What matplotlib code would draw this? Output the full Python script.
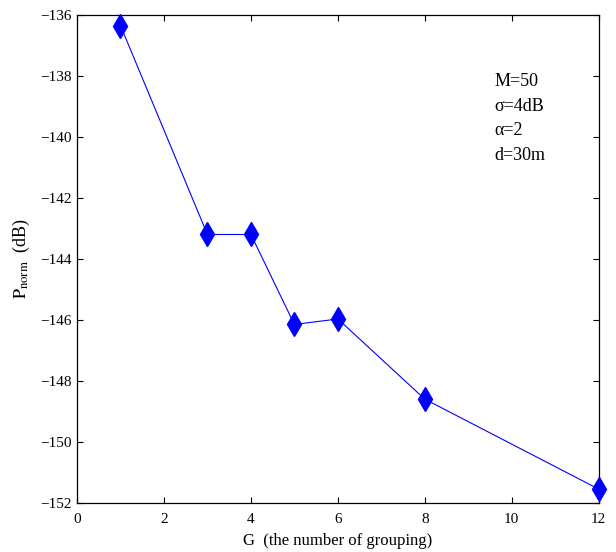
import matplotlib
matplotlib.use('Agg')
import matplotlib.pyplot as plt

# 分组数 G 与归一化功率 (dB)
groups = [1, 3, 4, 5, 6, 8, 12]
p_norm = [-136.35, -143.2, -143.2, -146.15, -145.97, -148.6, -151.55]

params_text = ['M=50', 'σ=4dB', 'α=2', 'd=30m']
xticks = [0, 2, 4, 6, 8, 10, 12]
yticks = [-152, -150, -148, -146, -144, -142, -140, -138, -136]

plt.rcParams['font.family'] = ['Liberation Serif', 'DejaVu Serif']
plt.rcParams['mathtext.fontset'] = 'stix'
plt.rcParams['xtick.direction'] = 'in'
plt.rcParams['ytick.direction'] = 'in'

fig = plt.figure(figsize=(6.16, 5.52), dpi=100)
ax = fig.add_axes([0.125, 0.089, 0.847, 0.884])

ax.plot(groups, p_norm, color='blue', linewidth=0.8, marker='d',
        markersize=12, markerfacecolor='blue', markeredgecolor='blue',
        clip_on=False, zorder=3)

ax.set_xlim(0, 12)
ax.set_ylim(-152, -136)
ax.set_xticks(xticks)
ax.set_yticks(yticks)
ax.set_yticklabels(['\u2212%d' % abs(v) for v in yticks])
ax.tick_params(top=True, right=True, labelsize=11, length=4, width=0.8)
ax.tick_params(axis='x', pad=7)
for s in ax.spines.values():
    s.set_linewidth(0.9)

ax.set_xlabel('G  (the number of grouping)', fontsize=12, labelpad=5)
ax.set_ylabel(r'$\mathrm{P_{norm}}$  (dB)', fontsize=13, labelpad=6)

# 参数说明
for i, t in enumerate(params_text):
    ax.text(9.6, -138.2 - i * 0.8, t, fontsize=13, va='center', ha='left')

fig.savefig('out.png', dpi=100)
